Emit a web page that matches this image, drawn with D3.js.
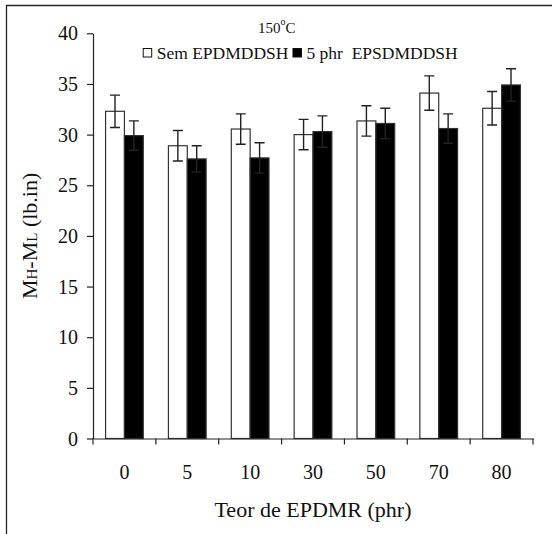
<!DOCTYPE html>
<html>
<head>
<meta charset="utf-8">
<script src="https://cdn.jsdelivr.net/npm/d3@7"></script>
<style>
	body { margin: 0; background: #fff; }
	svg { display: block; }
	text {
		font-family: "Liberation Serif", "Times New Roman", serif;
		fill: #111;
	}
</style>
</head>
<body>
<div id="chart"></div>
<script>

const categories = ["0", "5", "10", "30", "50", "70", "80"];
const seriesNames = ["Sem EPDMDDSH", "5 phr  EPSDMDDSH"];
const semValues = [32.3, 28.9, 30.55, 30.0, 31.35, 34.1, 32.6];
const semErrors = [1.6, 1.5, 1.5, 1.5, 1.5, 1.7, 1.65];
const phrValues = [29.9, 27.6, 27.7, 30.3, 31.1, 30.6, 34.9];
const phrErrors = [1.45, 1.3, 1.5, 1.55, 1.5, 1.45, 1.6];
const yTicks = [0, 5, 10, 15, 20, 25, 30, 35, 40];

const WIDTH = 552;
const HEIGHT = 534;
const LINE = "#222";
const FONT = "'Liberation Serif', 'Times New Roman', serif";

const margin = { left: 93, right: 19, top: 33.3, bottom: 95.5 };

const svg = d3.select("#chart").append("svg")
	.attr("width", WIDTH)
	.attr("height", HEIGHT);

// outer frame (only left and top edges are visible)
svg.append("path")
	.attr("d", `M6.5,${HEIGHT} V5.5 H${WIDTH}`)
	.attr("fill", "none")
	.attr("stroke", LINE)
	.attr("stroke-width", 1.3);

const x = d3.scaleBand()
	.domain(categories)
	.range([margin.left, WIDTH - margin.right]);

const bw = x.bandwidth();
const x1 = d3.scaleBand()
	.domain([0, 1])
	.range([bw * 0.2, bw * 0.8]);

const y = d3.scaleLinear()
	.domain([0, 40])
	.range([HEIGHT - margin.bottom, margin.top]);

// y axis
const axisY = d3.axisLeft(y)
	.tickValues(yTicks)
	.tickSize(6)
	.tickSizeOuter(0)
	.tickPadding(9);

const gY = svg.append("g")
	.attr("transform", `translate(${margin.left},0)`)
	.call(axisY)
	.attr("font-family", FONT);
gY.selectAll("path, line").attr("stroke", LINE).attr("stroke-width", 1.2);
gY.selectAll("text")
	.attr("font-size", 20)
	.attr("dy", "0.33em")
	.attr("fill", "#111");

// bars
const series = [
	{ values: semValues, errors: semErrors, fill: "#fff" },
	{ values: phrValues, errors: phrErrors, fill: "#000" }
];

series.forEach((s, i) => {
	const g = svg.append("g");
	g.selectAll("rect")
		.data(categories)
		.enter()
		.append("rect")
		.attr("x", d => x(d) + x1(i))
		.attr("width", x1.bandwidth())
		.attr("y", (d, k) => y(s.values[k]))
		.attr("height", (d, k) => y(0) - y(s.values[k]))
		.attr("fill", s.fill)
		.attr("stroke", "#333")
		.attr("stroke-width", 1.2);
});

// error bars
series.forEach((s, i) => {
	const g = svg.append("g")
		.attr("stroke", LINE)
		.attr("stroke-width", 1.4)
		.attr("fill", "none");
	categories.forEach((c, k) => {
		const cx = x(c) + x1(i) + x1.bandwidth() / 2;
		const hi = y(s.values[k] + s.errors[k]);
		const lo = y(s.values[k] - s.errors[k]);
		g.append("path")
			.attr("d", `M${cx},${hi}V${lo}M${cx - 5},${hi}H${cx + 5}M${cx - 5},${lo}H${cx + 5}`);
	});
});

// x axis
const axisX = d3.axisBottom(x)
	.tickSize(0)
	.tickPadding(0);

const gX = svg.append("g")
	.attr("transform", `translate(0,${y(0)})`)
	.call(axisX)
	.attr("font-family", FONT);
gX.select(".domain").attr("stroke", LINE).attr("stroke-width", 1.2);
gX.selectAll("text")
	.attr("font-size", 20)
	.attr("dy", null)
	.attr("y", 40.5)
	.attr("fill", "#111");

const boundaries = categories.map(c => x(c)).concat([x.range()[1]]);
gX.selectAll(".bound")
	.data(boundaries)
	.enter()
	.append("line")
	.attr("x1", d => d)
	.attr("x2", d => d)
	.attr("y1", 0)
	.attr("y2", 6)
	.attr("stroke", LINE)
	.attr("stroke-width", 1.2);

// axis titles
svg.append("text")
	.attr("x", (x.range()[0] + x.range()[1]) / 2)
	.attr("y", 517)
	.attr("text-anchor", "middle")
	.attr("font-size", 22)
	.text("Teor de EPDMR (phr)");

const yTitle = svg.append("text")
	.attr("transform", `translate(37,${(y(0) + y(40)) / 2}) rotate(-90)`)
	.attr("text-anchor", "middle")
	.attr("font-size", 22);
yTitle.append("tspan").text("M");
yTitle.append("tspan").attr("font-size", 15).text("H");
yTitle.append("tspan").text("-M");
yTitle.append("tspan").attr("font-size", 15).text("L");
yTitle.append("tspan").text(" (lb.in)");

// title and legend
const title = svg.append("text")
	.attr("x", 258)
	.attr("y", 33)
	.attr("font-size", 15);
title.append("tspan").text("150");
title.append("tspan").attr("font-size", 10).attr("dy", -8).text("o");
title.append("tspan").attr("dy", 8).text("C");

const legend = svg.append("g");
let lx = 142.7;
series.forEach((s, i) => {
	legend.append("rect")
		.attr("x", lx + 0.5)
		.attr("y", 48.5)
		.attr("width", 8.5)
		.attr("height", 8.5)
		.attr("fill", s.fill)
		.attr("stroke", "#111")
		.attr("stroke-width", 1);
	const t = legend.append("text")
		.attr("x", lx + 14)
		.attr("y", 59.3)
		.attr("font-size", 17.5)
		.style("white-space", "pre")
		.text(seriesNames[i]);
	lx = lx + 14 + t.node().getComputedTextLength() + 4;
});

</script>
</body>
</html>
